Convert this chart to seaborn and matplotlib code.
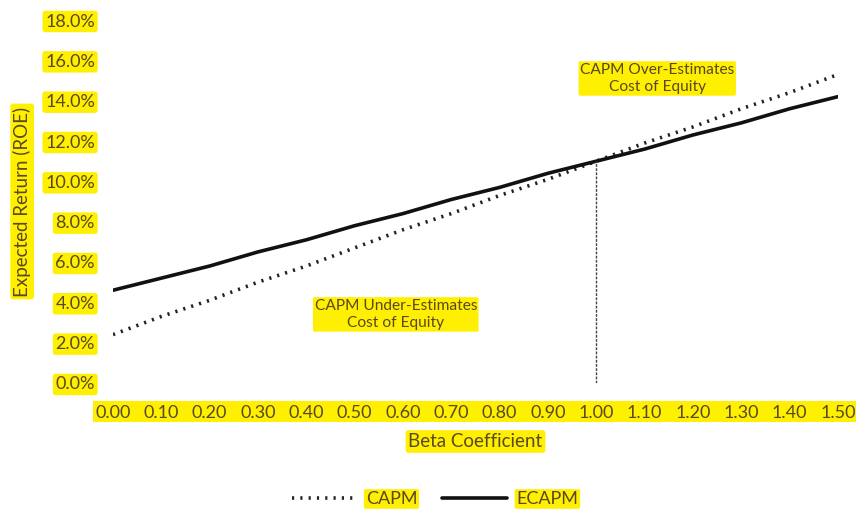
import matplotlib
matplotlib.use("Agg")
import matplotlib.pyplot as plt
from matplotlib.patches import Rectangle
import seaborn as sns
import pandas as pd
import numpy as np

# Data
beta = [0.00, 0.10, 0.20, 0.30, 0.40, 0.50, 0.60, 0.70, 0.80, 0.90, 1.00, 1.10, 1.20, 1.30, 1.40, 1.50]
capm = [2.4, 3.3, 4.1, 5.0, 5.8, 6.7, 7.6, 8.4, 9.3, 10.1, 11.0, 11.9, 12.7, 13.6, 14.4, 15.3]
ecapm = [4.6, 5.2, 5.8, 6.5, 7.1, 7.8, 8.4, 9.1, 9.7, 10.4, 11.0, 11.6, 12.3, 12.9, 13.6, 14.2]
x_ticks = [0.00, 0.10, 0.20, 0.30, 0.40, 0.50, 0.60, 0.70, 0.80, 0.90, 1.00, 1.10, 1.20, 1.30, 1.40, 1.50]
y_ticks = [0, 2, 4, 6, 8, 10, 12, 14, 16, 18]
crossover_beta = 1.0
crossover_value = 11.0

df = pd.DataFrame({"Beta": beta, "CAPM": capm, "ECAPM": ecapm})

sns.set_theme(style="white")
plt.rcParams['font.family'] = ['Lato', 'DejaVu Sans']

TXT = '#5a4822'
YEL = '#ffef00'

fig = plt.figure(figsize=(8.58, 5.16), dpi=100)
ax = fig.add_axes([0.1317, 0.2578, 0.845, 0.7034])
ax.patch.set_alpha(0)

# continuous yellow band behind the x tick labels
band = Rectangle((0.1084, 0.1822), 0.889, 0.0407, transform=fig.transFigure,
                 facecolor=YEL, edgecolor='none', zorder=-5)
fig.add_artist(band)

sns.lineplot(data=df, x="Beta", y="CAPM", ax=ax, color='#222222', linewidth=2.6,
             linestyle=(0, (0.6, 1.7)), label="CAPM")
sns.lineplot(data=df, x="Beta", y="ECAPM", ax=ax, color='#111111', linewidth=2.6,
             label="ECAPM")
ax.plot([crossover_beta, crossover_beta], [0, crossover_value], color='#444444',
        linewidth=1.0, linestyle=(0, (2, 1)))

ax.set_xlim(0, 1.5)
ax.set_ylim(0, 18)
ax.set_xticks(x_ticks)
ax.set_xticklabels([f"{v:.2f}" for v in x_ticks])
ax.set_yticks(y_ticks)
ax.set_yticklabels([f"{v:.1f}%" for v in y_ticks])
for s in ax.spines.values():
    s.set_visible(False)
ax.tick_params(axis='both', length=0, labelsize=13, labelcolor=TXT)
ax.tick_params(axis='x', pad=15.5)
ax.tick_params(axis='y', pad=13)
for t in ax.get_yticklabels():
    t.set_bbox(dict(facecolor=YEL, edgecolor='none', boxstyle='round,pad=0.15'))

ax.set_xlabel("Beta Coefficient", fontsize=13.5, color=TXT, labelpad=9,
              bbox=dict(facecolor=YEL, edgecolor='none', boxstyle='round,pad=0.15'))
ax.set_ylabel("Expected Return (ROE)", fontsize=13.5, color=TXT, labelpad=10,
              bbox=dict(facecolor=YEL, edgecolor='none', boxstyle='round,pad=0.15'))

ax.text(1.126, 15.1, "CAPM Over-Estimates\nCost of Equity", ha='center', va='center',
        fontsize=11.2, color=TXT, linespacing=1.3,
        bbox=dict(facecolor=YEL, edgecolor='none', boxstyle='round,pad=0.1'))
ax.text(0.585, 3.4, "CAPM Under-Estimates\nCost of Equity", ha='center', va='center',
        fontsize=11.2, color=TXT, linespacing=1.3,
        bbox=dict(facecolor=YEL, edgecolor='none', boxstyle='round,pad=0.1'))

ax.get_legend().remove()
handles, labels = ax.get_legend_handles_labels()
leg = fig.legend(handles[:2], labels[:2], loc='center', bbox_to_anchor=(0.507, 0.033),
                 ncol=2, frameon=False, fontsize=13, handlelength=3.6, columnspacing=1.4,
                 handletextpad=0.5)
for t in leg.get_texts():
    t.set_color(TXT)
    t.set_bbox(dict(facecolor=YEL, edgecolor='none', boxstyle='round,pad=0.1'))

fig.savefig("out.png", dpi=100)
